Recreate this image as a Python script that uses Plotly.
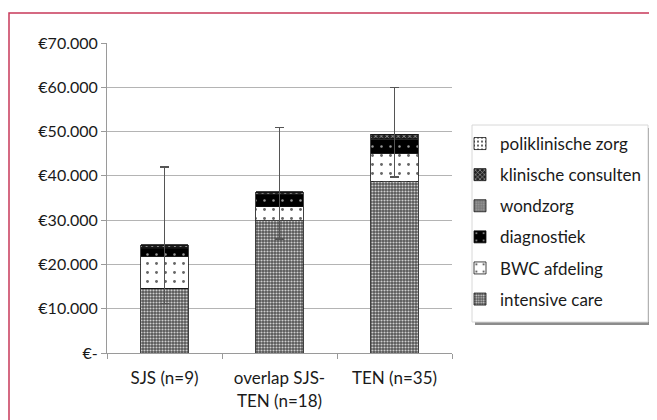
import plotly.graph_objects as go

categories = ["SJS (n=9)", "overlap SJS-<br>TEN (n=18)", "TEN (n=35)"]

intensive_care = [14600, 29900, 38700]
bwc_afdeling = [7300, 3100, 6400]
diagnostiek = [1800, 2700, 3000]
wondzorg = [200, 200, 300]
klinische_consulten = [400, 400, 900]
poliklinische_zorg = [100, 100, 100]

err_plus = [17600, 14500, 10500]
err_minus = [13200, 10700, 9700]

y_tickvals = [0, 10000, 20000, 30000, 40000, 50000, 60000, 70000]
y_ticktext = ["€-", "€10.000", "€20.000", "€30.000", "€40.000", "€50.000", "€60.000", "€70.000"]

series = [
    ("intensive care", intensive_care, dict(shape=".", bgcolor="#555555", fgcolor="#cfcfcf", size=3, solidity=0.4)),
    ("BWC afdeling", bwc_afdeling, dict(shape=".", bgcolor="#ffffff", fgcolor="#666666", size=9, solidity=0.08)),
    ("diagnostiek", diagnostiek, dict(shape=".", bgcolor="#000000", fgcolor="#9a9a9a", size=9, solidity=0.06)),
    ("wondzorg", wondzorg, dict(shape=".", bgcolor="#7a7a7a", fgcolor="#9a9a9a", size=3, solidity=0.3)),
    ("klinische consulten", klinische_consulten, dict(shape="x", bgcolor="#222222", fgcolor="#bbbbbb", size=4, solidity=0.3)),
    ("poliklinische zorg", poliklinische_zorg, dict(shape=".", bgcolor="#ffffff", fgcolor="#333333", size=5, solidity=0.2)),
]

fig = go.Figure()
n = len(series)
for i, (name, vals, pat) in enumerate(series):
    kw = {}
    if i == n - 1:
        kw["error_y"] = dict(type="data", array=err_plus, arrayminus=err_minus,
                             color="#555555", thickness=1.5, width=4.5)
    fig.add_trace(go.Bar(
        x=categories, y=vals, name=name, legendgroup=name, legendrank=n - i,
        marker=dict(color=pat["bgcolor"], line=dict(color="#111111", width=0.8),
                    pattern=dict(shape=pat["shape"], bgcolor=pat["bgcolor"], fgcolor=pat["fgcolor"],
                                 size=pat["size"], solidity=pat["solidity"], fillmode="replace")),
        **kw))

OFF = 8  # page body margin
W, H = 657 - OFF, 420 - OFF
L, R, T, B = 107 - OFF, 452 - OFF, 43 - OFF, 353 - OFF

def px(x):
    return (x - OFF - L) / (R - L)

def py(y):
    return (B - (y - OFF)) / (B - T)

shapes = [
    dict(type="path", xref="paper", yref="paper",
         path=f"M {px(9)} {py(440)} L {px(9)} {py(13)} L {px(700)} {py(13)}",
         line=dict(color="#c8385a", width=1.5)),
    dict(type="rect", xref="paper", yref="paper", x0=px(475), x1=px(651), y0=py(128), y1=py(325),
         line=dict(width=0), fillcolor="#8c8c8c", layer="below"),
    dict(type="rect", xref="paper", yref="paper", x0=px(472), x1=px(648), y0=py(125), y1=py(322),
         line=dict(color="#d8d8d8", width=1), fillcolor="#ffffff", layer="below"),
]

fig.update_layout(
    width=W, height=H,
    margin=dict(l=L, r=W - R, t=T, b=H - B, autoexpand=False),
    paper_bgcolor="white", plot_bgcolor="white",
    barmode="stack", bargap=0.59,
    font=dict(family="Lato", size=16, color="#1a1a1a"),
    showlegend=True,
    legend=dict(x=px(460), y=py(126), xanchor="left", yanchor="top",
                bgcolor="rgba(0,0,0,0)", borderwidth=0,
                traceorder="grouped", tracegroupgap=6,
                font=dict(family="Lato", size=17, color="#1a1a1a")),
    shapes=shapes,
)
fig.update_yaxes(range=[0, 70000], tickvals=y_tickvals, ticktext=y_ticktext,
                 showgrid=True, gridcolor="#b4b4b4", gridwidth=1,
                 showline=True, linecolor="#9a9a9a", linewidth=1,
                 ticks="outside", ticklen=5, tickcolor="#9a9a9a",
                 tickfont=dict(family="Lato", size=16, color="#1a1a1a"), zeroline=False)
fig.update_xaxes(showline=True, linecolor="#9a9a9a", linewidth=1,
                 ticks="outside", ticklen=5, tickcolor="#9a9a9a", tickson="boundaries",
                 ticklabelstandoff=10,
                 tickfont=dict(family="Lato", size=17, color="#1a1a1a"))

fig.write_html("out.html")
